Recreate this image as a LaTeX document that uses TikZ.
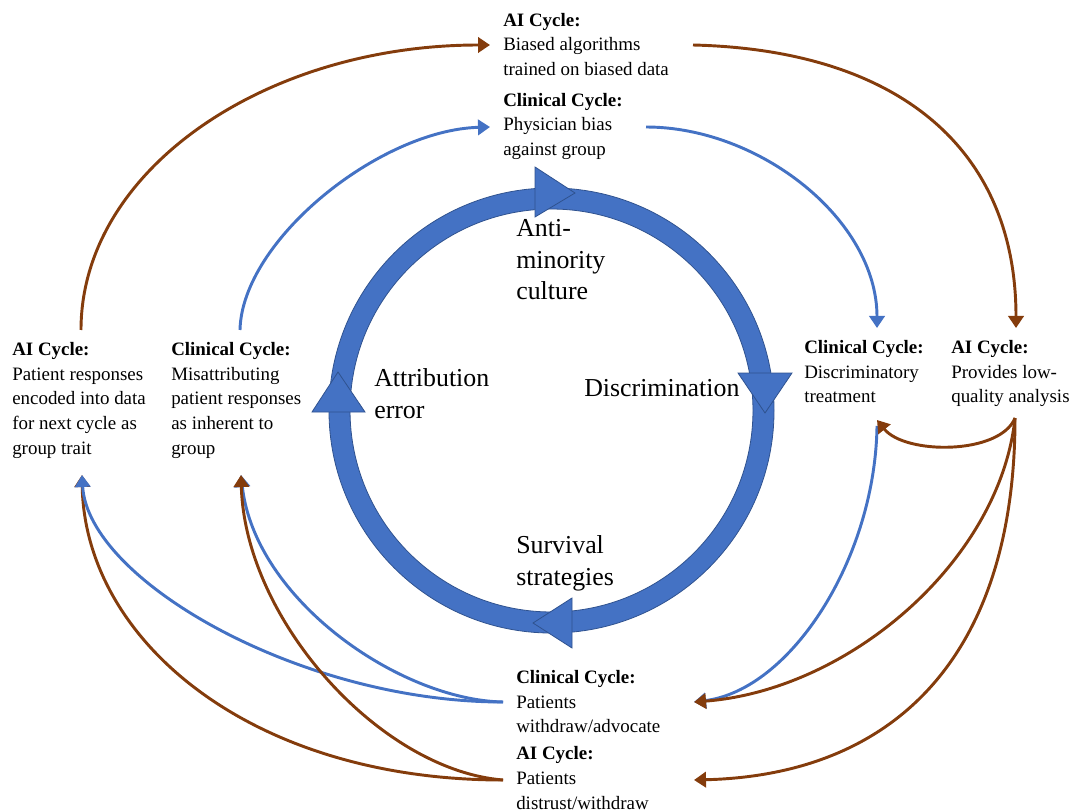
\documentclass[tikz,border=0pt]{standalone}
\usepackage{fontspec}
\setmainfont{Liberation Serif}
\usetikzlibrary{arrows.meta}
\definecolor{ringblue}{HTML}{4472C4}
\definecolor{ringedge}{HTML}{2F528F}
\definecolor{aibrown}{HTML}{843C0C}
\definecolor{clinblue}{HTML}{4472C4}
\begin{document}
\begin{tikzpicture}[x=0.75pt,y=-0.75pt,
  small/.style={font=\fontsize{14.2}{18.6}\selectfont, align=left, anchor=north west, inner sep=0pt},
  big/.style={font=\fontsize{19.4}{23.6}\selectfont, align=left, anchor=north west, inner sep=0pt},
  ailink/.style={draw=aibrown, line width=2.2pt},
  cllink/.style={draw=clinblue, line width=2.2pt},
  arrowed/.style={-{Triangle[length=9pt,width=11.5pt]}},
  ringhead/.style={fill=ringblue, draw=ringedge, line width=0.6pt, line join=miter}]
\useasboundingbox (0,0) rectangle (1069,812);

% ---- central ring ----
\coordinate (ctr) at (551.5,410.5);
\draw[ringblue, line width=15.75pt] (ctr) circle[radius=159pt];
\draw[ringedge, line width=0.6pt] (ctr) circle[radius=166.9pt];
\draw[ringedge, line width=0.6pt] (ctr) circle[radius=151.1pt];
\draw[ringhead] (535,167) -- (575,193) -- (535,217) -- cycle;
\draw[ringhead] (738,373) -- (792,373) -- (765,413) -- cycle;
\draw[ringhead] (572,598) -- (533,623) -- (572,648) -- cycle;
\draw[ringhead] (312,412) -- (365,412) -- (338,372) -- cycle;

% ---- labels inside ring ----
\node[big] (anti) at (516,219.5) {Anti-\\minority\\culture};
\node[big] (attr) at (374,368.5) {Attribution\\error};
\node[big] (discr) at (584,379.5) {Discrimination};
\node[big] (surv) at (516,535.5) {Survival\\strategies};

% ---- text blocks ----
\node[small] (topAI) at (503,12.8) {\textbf{AI Cycle:}\\Biased algorithms\\trained on biased data};
\node[small] (topClin) at (503,92.8) {\textbf{Clinical Cycle:}\\Physician bias\\against group};
\node[small] (rightClin) at (804,339.8) {\textbf{Clinical Cycle:}\\Discriminatory\\treatment};
\node[small] (rightAI) at (951,339.8) {\textbf{AI Cycle:}\\Provides low-\\quality analysis};
\node[small] (leftAI) at (12,341.8) {\textbf{AI Cycle:}\\Patient responses\\encoded into data\\for next cycle as\\group trait};
\node[small] (leftClin) at (171,341.8) {\textbf{Clinical Cycle:}\\Misattributing\\patient responses\\as inherent to\\group};
\node[small] (botClin) at (516,669.8) {\textbf{Clinical Cycle:}\\Patients\\withdraw/advocate};
\node[small] (botAI) at (516,746.5) {\textbf{AI Cycle:}\\Patients\\distrust/withdraw};

% ---- connector end points ----
\coordinate (leftAItop) at (81,330);
\coordinate (leftClintop) at (240,330);
\coordinate (topAIin) at (490,45);
\coordinate (topAIout) at (693,45);
\coordinate (topClinin) at (490,127);
\coordinate (topClinout) at (646,127);
\coordinate (rightClintop) at (877,328);
\coordinate (rightAItop) at (1016,328);
\coordinate (rightAIbot) at (1015,418);
\coordinate (rightClinbotin) at (877,420);
\coordinate (rightClinbotout) at (877,426);
\coordinate (botClinin) at (694,702);
\coordinate (botClinout) at (503,702);
\coordinate (botAIin) at (694,780);
\coordinate (botAIout) at (503,780);
\coordinate (leftAIbot) at (82,475);
\coordinate (leftClinbot) at (241,475);

% ---- upper connectors ----
\draw[ailink,arrowed] (leftAItop) .. controls (81,170) and (265,45) .. (topAIin);
\draw[cllink,arrowed] (leftClintop) .. controls (242,240) and (380,130) .. (topClinin);
\draw[ailink,arrowed] (topAIout) .. controls (900,50) and (1016,150) .. (rightAItop);
\draw[cllink,arrowed] (topClinout) .. controls (760,127) and (877,220) .. (rightClintop);

% ---- right lower connectors ----
\draw[cllink,arrowed] (rightClinbotout) .. controls (875,560) and (790,690) .. (botClinin);
\draw[ailink,arrowed] (rightAIbot) .. controls (1000,455) and (905,455) .. (rightClinbotin);
\draw[ailink,arrowed] (rightAIbot) .. controls (1000,560) and (850,690) .. (botClinin);
\draw[ailink,arrowed] (rightAIbot) .. controls (1015,650) and (900,775) .. (botAIin);

% ---- left lower connectors ----
\draw[ailink,arrowed] (botAIout) .. controls (250,780) and (85,640) .. (leftAIbot);
\draw[cllink,arrowed] (botClinout) .. controls (400,700) and (255,600) .. (leftClinbot);
\draw[cllink,arrowed] (botClinout) .. controls (300,702) and (88,580) .. (leftAIbot);
\draw[ailink,arrowed] (botAIout) .. controls (380,770) and (245,620) .. (leftClinbot);
\end{tikzpicture}
\end{document}
